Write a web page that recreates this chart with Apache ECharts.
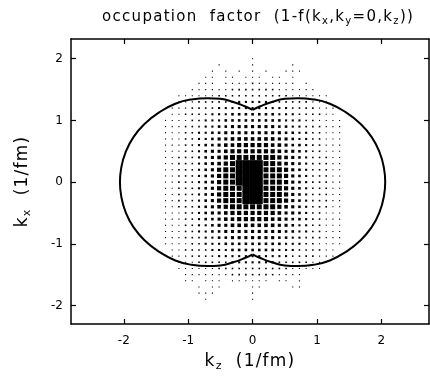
<!DOCTYPE html>
<html>
<head>
<meta charset="utf-8">
<script src="https://cdn.jsdelivr.net/npm/echarts@6/dist/echarts.min.js"></script>
<style>
html, body { margin: 0; padding: 0; background: #fff; }
#occ { width: 430px; height: 380px; }
</style>
</head>
<body>
<div id="occ"></div>
<script>
// k_z positions of the dot columns (1/fm)
var kzList = [-1.56, -1.456, -1.352, -1.248, -1.144, -1.04, -0.936, -0.832, -0.728, -0.624, -0.52, -0.416, -0.312, -0.208, -0.104, 0,
    0.104, 0.208, 0.312, 0.416, 0.52, 0.624, 0.728, 0.832, 0.936, 1.04, 1.144, 1.248, 1.352, 1.456, 1.56];
// k_x positions of the dot rows, top row first
var kxList = [2.0, 1.9, 1.8, 1.7, 1.6, 1.5, 1.4, 1.3, 1.2, 1.1, 1.0, 0.9, 0.8, 0.7, 0.6, 0.5, 0.4, 0.3, 0.2, 0.1, 0,
    -0.1, -0.2, -0.3, -0.4, -0.5, -0.6, -0.7, -0.8, -0.9, -1.0, -1.1, -1.2, -1.3, -1.4, -1.5, -1.6, -1.7, -1.8, -1.9, -2.0];
// occupation level of each cell (0 = empty .. 9 = full), one digit per k_z column
var levelRows = [
    '0000000000000001000000000000000',
    '0000000000100001000001000000000',
    '0000000001010101010011100000000',
    '0000000011011011101101000000000',
    '0000000111011112111111010000000',
    '0000001111112222222111111000000',
    '0000111111222222222221111110000',
    '0000111222223333333222221110000',
    '0001112222333333333332222111000',
    '0001122223334444444333222211000',
    '0011112233344444444433322111100',
    '0011122233445555555443322211100',
    '0011122334455555555544332211100',
    '0011122334556666666554332211100',
    '0011122344566777776654432211100',
    '0011122345567777777655432211100',
    '0011222345678888888765432221100',
    '0011222345678999988765432221100',
    '0011222345788999988875432221100',
    '0011222345788999988875432221100',
    '0011222345788999988875432221100',
    '0011222345788899988875432221100',
    '0011222345788899988875432221100',
    '0011222345788899988875432221100',
    '0011222345678888888765432221100',
    '0011122345567777777655432211100',
    '0011122344566777776654432211100',
    '0011122334556666666554332211100',
    '0011122334455555555544332211100',
    '0011122233445555555443322211100',
    '0011112233344444444433322111100',
    '0001122223334444444333222211000',
    '0001112222333333333332222111000',
    '0000111222223333333222221110000',
    '0000111111222222222221111100000',
    '0000011111112222222111100000000',
    '0000011011101111110110100000000',
    '0000000101100001100001100000000',
    '0000000111000001000000000000000',
    '0000000010000001000000000000000',
    '0000000000000000000000000000000'
];
// contour, one lobe each side (k_z, k_x)
var rightLobe = [[0, 1.17], [0.12, 1.23], [0.3, 1.3], [0.5, 1.35], [0.7, 1.36], [0.95, 1.34], [1.2, 1.27], [1.45, 1.13],
    [1.67, 0.95], [1.85, 0.73], [1.97, 0.49], [2.04, 0.23], [2.06, 0], [2.04, -0.23], [1.97, -0.49], [1.85, -0.73],
    [1.67, -0.95], [1.45, -1.13], [1.2, -1.27], [0.95, -1.34], [0.7, -1.36], [0.5, -1.35], [0.3, -1.3], [0.12, -1.23], [0, -1.17]];
var leftLobe = [[0, 1.17], [-0.12, 1.23], [-0.3, 1.3], [-0.5, 1.35], [-0.7, 1.36], [-0.95, 1.34], [-1.2, 1.27], [-1.45, 1.13],
    [-1.67, 0.95], [-1.85, 0.73], [-1.97, 0.49], [-2.04, 0.23], [-2.06, 0], [-2.04, -0.23], [-1.97, -0.49], [-1.85, -0.73],
    [-1.67, -0.95], [-1.45, -1.13], [-1.2, -1.27], [-0.95, -1.34], [-0.7, -1.36], [-0.5, -1.35], [-0.3, -1.3], [-0.12, -1.23], [0, -1.17]];
var tickList = [-2, -1, 0, 1, 2];

// text pieces: [text, 'n' normal | 's' subscript]
var titleParts = [['occupation  factor  (1-f(k', 'n'], ['x', 's'], [',k', 'n'], ['y', 's'], ['=0,k', 'n'], ['z', 's'], ['))', 'n']];
var xNameParts = [['k', 'n'], ['z', 's'], ['  (1/fm)', 'n']];
var yNameParts = [['k', 'n'], ['x', 's'], ['  (1/fm)', 'n']];

// square size in px for each level
var sizeOf = [0, 1.1, 1.6, 2.1, 2.6, 3.1, 3.6, 4.2, 5.0, 7.0];

var dots = [];
for (var r = 0; r < levelRows.length; r++) {
    for (var c = 0; c < levelRows[r].length; c++) {
        var lvl = +levelRows[r].charAt(c);
        if (lvl > 0) {
            dots.push([kzList[c], kxList[r], lvl]);
        }
    }
}

// the plotter font is widely spaced: one rich token per character, padded right
function spaced(parts) {
    var out = '';
    for (var i = 0; i < parts.length; i++) {
        var chars = parts[i][0].split('');
        for (var j = 0; j < chars.length; j++) {
            out += '{' + parts[i][1] + '|' + chars[j] + '}';
        }
    }
    return out;
}

var font = 'DejaVu Sans';
function richStyle(size, subSize, pad) {
    return {
        n: {fontFamily: font, fontSize: size, fontWeight: 'normal', lineHeight: size + 3, padding: [0, pad, 0, 0], color: '#000'},
        s: {fontFamily: font, fontSize: subSize, fontWeight: 'normal', lineHeight: subSize, padding: [0, pad, 0, 0], verticalAlign: 'bottom', color: '#000'}
    };
}

function frameAxis(pos, showLabel) {
    return {
        type: 'value',
        position: pos,
        axisLine: {show: true, onZero: false, lineStyle: {color: '#000', width: 1.5}},
        axisTick: {show: true, inside: true, length: 5, customValues: tickList, lineStyle: {color: '#000', width: 1.2}},
        axisLabel: {show: showLabel, customValues: tickList, fontFamily: font, fontSize: 12, color: '#000'},
        splitLine: {show: false}
    };
}

var xBottom = frameAxis('bottom', true);
xBottom.min = -2.82; xBottom.max = 2.74;
xBottom.axisLabel.margin = 11;
xBottom.name = spaced(xNameParts);
xBottom.nameLocation = 'middle';
xBottom.nameGap = 28;
xBottom.nameTextStyle = {rich: richStyle(17, 11, 1.2)};
var xTop = frameAxis('top', false);
xTop.min = -2.82; xTop.max = 2.74;

var yLeft = frameAxis('left', true);
yLeft.min = -2.3; yLeft.max = 2.32;
yLeft.axisLabel.margin = 8;
yLeft.name = spaced(yNameParts);
yLeft.nameLocation = 'middle';
yLeft.nameGap = 38;
yLeft.nameTextStyle = {rich: richStyle(17, 11, 1.2)};
var yRight = frameAxis('right', false);
yRight.min = -2.3; yRight.max = 2.32;

var occChart = echarts.init(document.getElementById('occ'));
occChart.setOption({
    animation: false,
    title: {
        text: spaced(titleParts),
        left: 97,
        top: 3,
        textStyle: {rich: richStyle(15, 10, 1.3)}
    },
    grid: {left: 71, right: 1, top: 39, bottom: 56},
    xAxis: [xBottom, xTop],
    yAxis: [yLeft, yRight],
    series: [{
        type: 'scatter',
        data: dots,
        symbol: 'rect',
        symbolSize: function (v) { return sizeOf[v[2]]; },
        itemStyle: {color: '#000', opacity: 1},
        silent: true
    }, {
        type: 'line',
        data: rightLobe,
        smooth: true,
        showSymbol: false,
        lineStyle: {color: '#000', width: 2},
        silent: true
    }, {
        type: 'line',
        data: leftLobe,
        smooth: true,
        showSymbol: false,
        lineStyle: {color: '#000', width: 2},
        silent: true
    }]
});
</script>
</body>
</html>
